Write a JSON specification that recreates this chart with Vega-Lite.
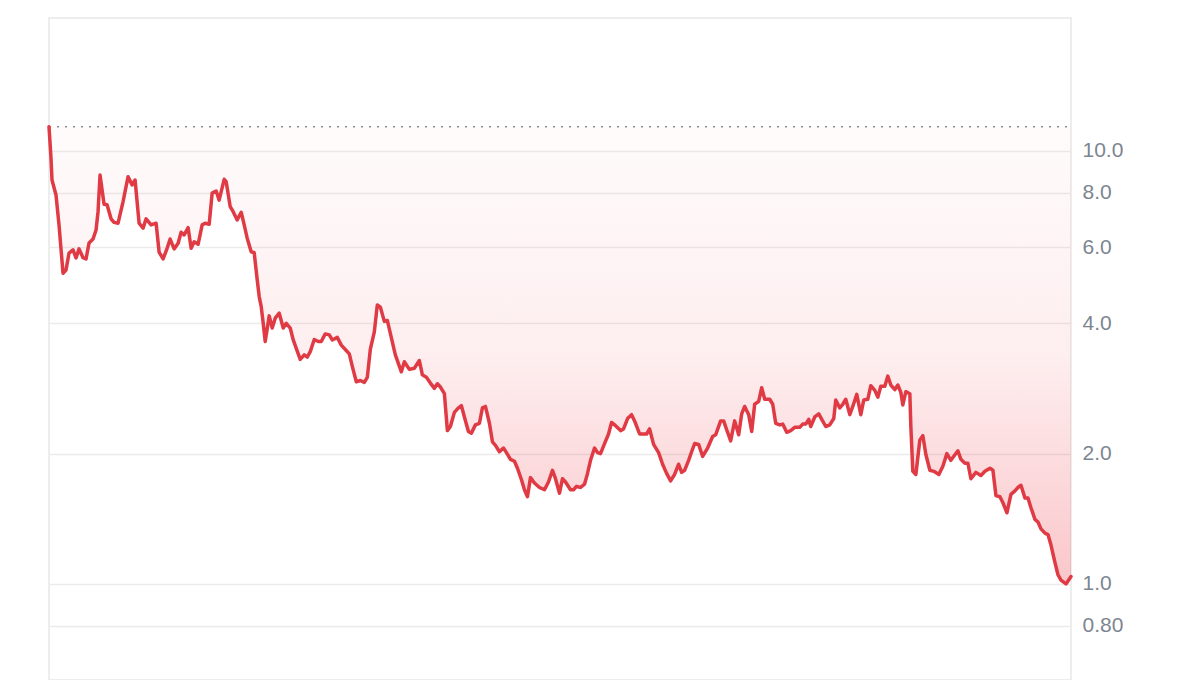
{
  "$schema": "https://vega.github.io/schema/vega-lite/v6.json",
  "width": 1022,
  "height": 662,
  "padding": {"left": 47, "top": 18, "right": 0, "bottom": 0},
  "autosize": {"type": "pad"},
  "background": "white",
  "config": {
    "view": {"stroke": "#e8e8e8", "strokeWidth": 1.5},
    "font": "Liberation Sans"
  },
  "data": {
    "values": [
      {"t":0,"v":11.38},{"t":2,"v":9.62},{"t":3,"v":8.57},{"t":7,"v":7.91},{"t":10,"v":6.75},{"t":14,"v":5.22},{"t":17,"v":5.31},{"t":20,"v":5.81},{"t":24,"v":5.91},{"t":27,"v":5.66},
      {"t":30,"v":5.94},{"t":34,"v":5.67},{"t":37,"v":5.63},{"t":40,"v":6.13},{"t":44,"v":6.26},{"t":47,"v":6.57},{"t":49,"v":7.24},{"t":51,"v":8.80},{"t":55,"v":7.53},{"t":58,"v":7.51},
      {"t":62,"v":6.97},{"t":65,"v":6.84},{"t":69,"v":6.81},{"t":74,"v":7.64},{"t":79,"v":8.72},{"t":83,"v":8.35},{"t":86,"v":8.57},{"t":90,"v":6.81},{"t":94,"v":6.63},{"t":97,"v":6.97},
      {"t":102,"v":6.75},{"t":107,"v":6.81},{"t":110,"v":5.84},{"t":114,"v":5.63},{"t":118,"v":5.96},{"t":121,"v":6.26},{"t":125,"v":5.94},{"t":129,"v":6.12},{"t":132,"v":6.49},{"t":135,"v":6.40},
      {"t":139,"v":6.65},{"t":142,"v":5.96},{"t":145,"v":6.17},{"t":149,"v":6.09},{"t":153,"v":6.75},{"t":156,"v":6.81},{"t":160,"v":6.77},{"t":163,"v":7.99},{"t":167,"v":8.08},{"t":170,"v":7.70},
      {"t":175,"v":8.60},{"t":177,"v":8.49},{"t":181,"v":7.44},{"t":184,"v":7.24},{"t":188,"v":6.93},{"t":192,"v":7.22},{"t":195,"v":6.75},{"t":198,"v":6.29},{"t":202,"v":5.85},{"t":205,"v":5.82},
      {"t":208,"v":5.04},{"t":210,"v":4.61},{"t":212,"v":4.37},{"t":214,"v":4.00},{"t":216,"v":3.63},{"t":220,"v":4.16},{"t":223,"v":3.90},{"t":226,"v":4.11},{"t":230,"v":4.22},{"t":234,"v":3.90},
      {"t":237,"v":4.00},{"t":241,"v":3.90},{"t":244,"v":3.66},{"t":247,"v":3.50},{"t":251,"v":3.30},{"t":255,"v":3.38},{"t":258,"v":3.34},{"t":261,"v":3.44},{"t":265,"v":3.67},{"t":269,"v":3.63},
      {"t":272,"v":3.63},{"t":276,"v":3.78},{"t":280,"v":3.76},{"t":283,"v":3.66},{"t":288,"v":3.71},{"t":292,"v":3.56},{"t":296,"v":3.48},{"t":300,"v":3.40},{"t":303,"v":3.18},{"t":307,"v":2.93},
      {"t":311,"v":2.95},{"t":315,"v":2.92},{"t":318,"v":3.00},{"t":321,"v":3.48},{"t":325,"v":3.82},{"t":328,"v":4.41},{"t":331,"v":4.36},{"t":335,"v":4.04},{"t":338,"v":4.06},{"t":341,"v":3.79},
      {"t":346,"v":3.38},{"t":352,"v":3.09},{"t":355,"v":3.26},{"t":360,"v":3.13},{"t":365,"v":3.15},{"t":370,"v":3.28},{"t":373,"v":3.04},{"t":377,"v":3.00},{"t":381,"v":2.91},{"t":385,"v":2.83},
      {"t":388,"v":2.90},{"t":391,"v":2.85},{"t":395,"v":2.75},{"t":398,"v":2.26},{"t":401,"v":2.31},{"t":405,"v":2.49},{"t":409,"v":2.55},{"t":412,"v":2.58},{"t":415,"v":2.43},{"t":419,"v":2.25},
      {"t":422,"v":2.23},{"t":426,"v":2.33},{"t":430,"v":2.35},{"t":433,"v":2.55},{"t":436,"v":2.57},{"t":440,"v":2.35},{"t":443,"v":2.13},{"t":446,"v":2.09},{"t":450,"v":2.02},{"t":454,"v":2.06},
      {"t":457,"v":2.01},{"t":461,"v":1.94},{"t":465,"v":1.92},{"t":468,"v":1.85},{"t":472,"v":1.74},{"t":475,"v":1.65},{"t":478,"v":1.59},{"t":481,"v":1.76},{"t":485,"v":1.71},{"t":490,"v":1.67},
      {"t":495,"v":1.65},{"t":499,"v":1.72},{"t":503,"v":1.83},{"t":506,"v":1.75},{"t":510,"v":1.62},{"t":513,"v":1.75},{"t":516,"v":1.72},{"t":521,"v":1.65},{"t":524,"v":1.65},{"t":527,"v":1.68},
      {"t":531,"v":1.67},{"t":535,"v":1.70},{"t":538,"v":1.80},{"t":541,"v":1.93},{"t":545,"v":2.06},{"t":548,"v":2.01},{"t":551,"v":2.00},{"t":555,"v":2.11},{"t":559,"v":2.22},{"t":562,"v":2.36},
      {"t":566,"v":2.32},{"t":571,"v":2.26},{"t":574,"v":2.28},{"t":578,"v":2.41},{"t":582,"v":2.46},{"t":585,"v":2.38},{"t":590,"v":2.22},{"t":593,"v":2.22},{"t":597,"v":2.22},{"t":600,"v":2.28},
      {"t":604,"v":2.10},{"t":609,"v":2.01},{"t":613,"v":1.89},{"t":617,"v":1.80},{"t":621,"v":1.73},{"t":625,"v":1.79},{"t":629,"v":1.89},{"t":632,"v":1.81},{"t":635,"v":1.83},{"t":639,"v":1.93},
      {"t":642,"v":2.02},{"t":645,"v":2.11},{"t":649,"v":2.10},{"t":653,"v":1.97},{"t":658,"v":2.06},{"t":663,"v":2.19},{"t":666,"v":2.21},{"t":671,"v":2.38},{"t":674,"v":2.38},{"t":677,"v":2.27},
      {"t":681,"v":2.14},{"t":685,"v":2.38},{"t":689,"v":2.21},{"t":692,"v":2.47},{"t":695,"v":2.57},{"t":699,"v":2.46},{"t":702,"v":2.25},{"t":705,"v":2.60},{"t":709,"v":2.64},{"t":712,"v":2.84},
      {"t":715,"v":2.67},{"t":720,"v":2.67},{"t":723,"v":2.60},{"t":726,"v":2.35},{"t":730,"v":2.33},{"t":733,"v":2.34},{"t":737,"v":2.24},{"t":741,"v":2.26},{"t":745,"v":2.30},{"t":750,"v":2.30},
      {"t":753,"v":2.34},{"t":756,"v":2.34},{"t":759,"v":2.40},{"t":761,"v":2.31},{"t":765,"v":2.43},{"t":769,"v":2.47},{"t":772,"v":2.40},{"t":776,"v":2.31},{"t":780,"v":2.33},{"t":784,"v":2.41},
      {"t":786,"v":2.66},{"t":790,"v":2.55},{"t":793,"v":2.60},{"t":796,"v":2.67},{"t":800,"v":2.46},{"t":803,"v":2.57},{"t":807,"v":2.74},{"t":811,"v":2.46},{"t":814,"v":2.66},{"t":818,"v":2.67},
      {"t":821,"v":2.87},{"t":825,"v":2.80},{"t":828,"v":2.70},{"t":831,"v":2.86},{"t":835,"v":2.86},{"t":838,"v":3.02},{"t":841,"v":2.88},{"t":845,"v":2.81},{"t":848,"v":2.88},{"t":851,"v":2.77},
      {"t":853,"v":2.59},{"t":856,"v":2.78},{"t":860,"v":2.75},{"t":861,"v":2.31},{"t":863,"v":1.82},{"t":866,"v":1.79},{"t":870,"v":2.15},{"t":873,"v":2.20},{"t":876,"v":1.99},{"t":880,"v":1.83},
      {"t":884,"v":1.82},{"t":889,"v":1.79},{"t":893,"v":1.87},{"t":897,"v":2.00},{"t":901,"v":1.93},{"t":908,"v":2.03},{"t":911,"v":1.94},{"t":915,"v":1.90},{"t":918,"v":1.90},{"t":921,"v":1.75},
      {"t":926,"v":1.81},{"t":931,"v":1.78},{"t":935,"v":1.82},{"t":940,"v":1.85},{"t":943,"v":1.83},{"t":946,"v":1.60},{"t":950,"v":1.59},{"t":953,"v":1.54},{"t":957,"v":1.46},{"t":961,"v":1.61},
      {"t":965,"v":1.64},{"t":968,"v":1.67},{"t":971,"v":1.69},{"t":975,"v":1.58},{"t":978,"v":1.58},{"t":981,"v":1.50},{"t":985,"v":1.41},{"t":988,"v":1.39},{"t":991,"v":1.34},{"t":995,"v":1.31},
      {"t":998,"v":1.30},{"t":1001,"v":1.23},{"t":1005,"v":1.12},{"t":1008,"v":1.05},{"t":1011,"v":1.02},{"t":1016,"v":1.00},{"t":1021,"v":1.04}
    ]
  },
  "transform": [{"joinaggregate": [{"op": "max", "field": "v", "as": "vmax"}]}],
  "encoding": {
    "x": {"field": "t", "type": "quantitative", "scale": {"domain": [0, 1021], "nice": false, "zero": false}, "axis": null}
  },
  "layer": [
    {
      "mark": {
        "type": "area",
        "fill": {
          "gradient": "linear",
          "x1": 0, "y1": 0, "x2": 0, "y2": 1,
          "stops": [
            {"offset": 0, "color": "rgba(239,68,80,0.02)"},
            {"offset": 0.5, "color": "rgba(239,68,80,0.09)"},
            {"offset": 1, "color": "rgba(239,68,80,0.3)"}
          ]
        }
      },
      "encoding": {
        "y": {
          "field": "v", "type": "quantitative",
          "scale": {"type": "log", "domain": [0.6, 20.28], "nice": false, "zero": false},
          "axis": {
            "orient": "right",
            "values": [0.8, 1, 2, 4, 6, 8, 10],
            "labelExpr": "datum.value >= 1 ? format(datum.value, '.1f') : format(datum.value, '.2f')",
            "domain": false,
            "ticks": false,
            "labelPadding": 11,
            "labelFontSize": 21,
            "labelColor": "#7d8590",
            "labelFont": "Liberation Sans",
            "gridColor": "#ebebeb",
            "gridWidth": 1.5,
            "title": null
          }
        },
        "y2": {"field": "vmax"}
      }
    },
    {
      "mark": {"type": "rule", "strokeDash": [2, 6], "color": "#8a8f96", "strokeWidth": 1.5},
      "encoding": {
        "y": {"aggregate": "max", "field": "v", "type": "quantitative"},
        "x": {"value": 0},
        "x2": {"value": 1022}
      }
    },
    {
      "mark": {"type": "line", "color": "#e03a45", "strokeWidth": 3.5, "strokeJoin": "round", "strokeCap": "round"},
      "encoding": {
        "y": {"field": "v", "type": "quantitative"}
      }
    }
  ]
}
